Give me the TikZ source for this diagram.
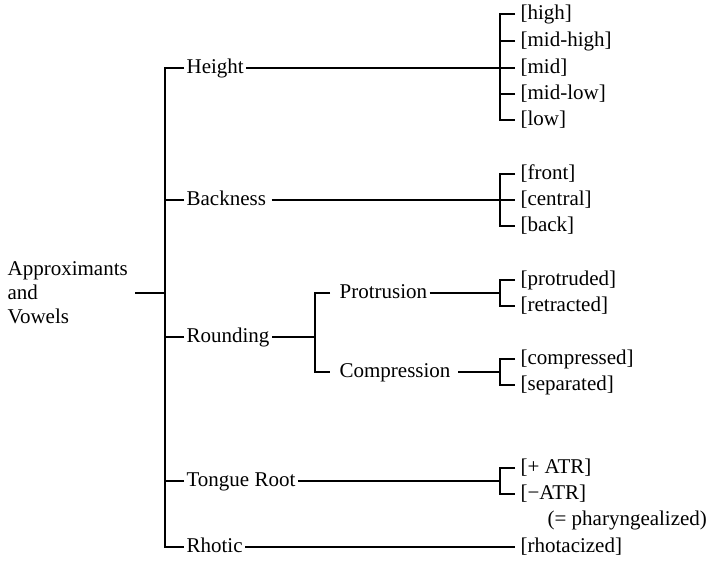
\documentclass[tikz,border=0pt]{standalone}
\usepackage{fontspec}
\setmainfont{Liberation Serif}
\usetikzlibrary{positioning}

\begin{document}
\begin{tikzpicture}[
    x=1pt, y=-1pt,
    line width=1.2pt,
    feat/.style={anchor=west, inner xsep=2pt, inner ysep=0pt, text height=15pt, text depth=4pt, font=\fontsize{21}{24}\selectfont},
    val/.style={feat, inner xsep=5pt},
    rootbox/.style={anchor=west, align=left, inner xsep=7pt, inner ysep=0pt, font=\fontsize{21}{24}\selectfont}
  ]
    \useasboundingbox (0,0) rectangle (709,561);

    \node[rootbox] (root) at (0,293) {Approximants\\and\\Vowels};
    \coordinate (spine) at (165,293);

    \node[feat] (height) at (184,68) {Height};
    \node[feat] (backness) at (184,200) {Backness};
    \node[feat] (rounding) at (184,337) {Rounding};
    \node[feat] (tongue) at (184,481) {Tongue Root};
    \node[feat] (rhotic) at (184,547) {Rhotic};

    \node[feat] (protrusion) at (337,293) {Protrusion};
    \node[feat] (compression) at (337,372) {Compression};

    \node[val] (high) at (515,14) {[high]};
    \node[val] (midhigh) at (515,41) {[mid-high]};
    \node[val] (mid) at (515,68) {[mid]};
    \node[val] (midlow) at (515,94) {[mid-low]};
    \node[val] (low) at (515,120) {[low]};

    \node[val] (front) at (515,174) {[front]};
    \node[val] (central) at (515,200) {[central]};
    \node[val] (back) at (515,226) {[back]};

    \node[val] (protruded) at (515,280) {[protruded]};
    \node[val] (retracted) at (515,306) {[retracted]};
    \node[val] (compressed) at (515,359) {[compressed]};
    \node[val] (separated) at (515,385) {[separated]};

    \node[val] (plusatr) at (515,468) {[+ ATR]};
    \node[val] (minusatr) at (515,494) {[−ATR]};
    \node[val] (phar) at (542,520) {(= pharyngealized)};

    \node[val] (rhotacized) at (515,547) {[rhotacized]};

    % main spine
    \draw (root.east) -- (spine);
    \draw (height.west) -- ++(-19,0) |- (rhotic.west);
    \foreach \n in {backness,rounding,tongue}
      \draw (\n.west) -- ++(-19,0);

    % rounding split
    \coordinate (rj) at (315,337);
    \draw (rounding.east) -- (rj);
    \draw ([xshift=-7pt]protrusion.west) -| (rj) |- ([xshift=-7pt]compression.west);

    % value brackets
    \coordinate (hj) at (500,68);
    \draw (height.east) -- (hj) -- (mid.west);
    \draw (high.west) -| (hj) |- (low.west);
    \foreach \n in {midhigh,midlow}
      \draw (\n.west) -- ++(-15,0);

    \coordinate (bj) at (500,200);
    \draw ([xshift=3pt]backness.east) -- (bj) -- (central.west);
    \draw (front.west) -| (bj) |- (back.west);

    \coordinate (pj) at (500,293);
    \draw (protrusion.east) -- (pj);
    \draw (protruded.west) -| (pj) |- (retracted.west);

    \coordinate (cj) at (500,372);
    \draw ([xshift=5pt]compression.east) -- (cj);
    \draw (compressed.west) -| (cj) |- (separated.west);

    \coordinate (tj) at (500,481);
    \draw (tongue.east) -- (tj);
    \draw (plusatr.west) -| (tj) |- (minusatr.west);

    \draw (rhotic.east) -- (rhotacized.west);
  \end{tikzpicture}
\end{document}
